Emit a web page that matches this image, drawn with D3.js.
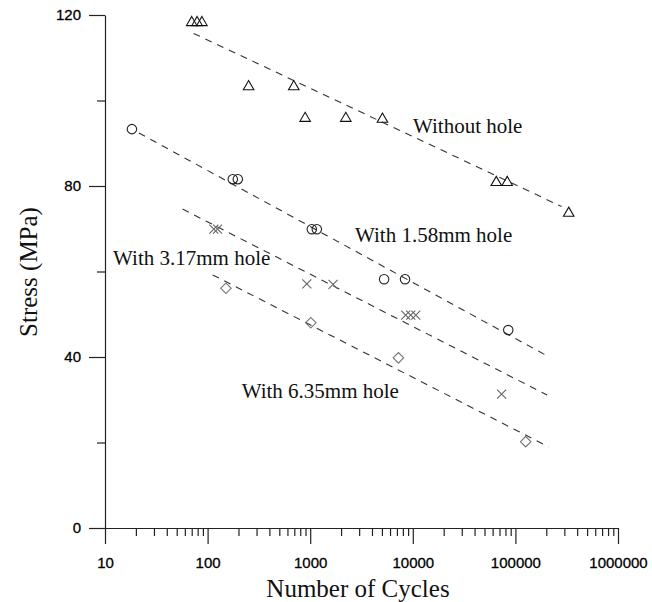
<!DOCTYPE html>
<meta charset="utf-8">
<style>
  body { margin: 0; background: #fff; }
  .tick text { font-family: "Liberation Sans", Arial, sans-serif; font-size: 15px; fill: #000; stroke: #000; stroke-width: 0.3; }
  .tick line, .domain { stroke: #222; stroke-width: 1.2; }
  .note { font-family: "Liberation Serif", "Times New Roman", serif; fill: #111; }
</style>
<svg width="652" height="602"></svg>
<script src="https://d3js.org/d3.v7.min.js"></script>
<script>

var svg = d3.select("svg");

// data: cycles and stress (MPa)
var withoutHoleN = [70, 79, 88, 251, 692, 893, 2222, 5060, 65100, 83200, 331000];
var withoutHoleS = [118, 118, 118, 103, 103, 95.6, 95.6, 95.4, 80.6, 80.6, 73.4];

var hole158N = [18.3, 176, 197, 1037, 1160, 5250, 8400, 85200];
var hole158S = [93.3, 81.6, 81.6, 69.9, 69.9, 58.2, 58.2, 46.3];

var hole317N = [115, 125, 927, 1670, 8520, 9550, 10700, 73400];
var hole317S = [69.9, 69.9, 57.1, 57, 49.8, 49.8, 49.8, 31.3];

var hole635N = [151, 1014, 7240, 126000];
var hole635S = [56.1, 48.0, 39.8, 20.2];

// dashed trend lines (start / end)
var fitStartN = [73, 21.4, 57, 112];
var fitStartS = [115.7, 92.4, 74.6, 59.2];
var fitEndN = [282000, 210000, 204000, 210000];
var fitEndS = [75.2, 40.1, 31.1, 19.0];

var seriesNames = ["Without hole", "With 1.58mm hole", "With 3.17mm hole", "With 6.35mm hole"];
var labelN = [10050, 2735, 12, 215];
var labelS = [92.5, 66.9, 61.5, 30.4];

var xTicks = [10, 100, 1000, 10000, 100000, 1000000];
var yTicks = [0, 40, 80, 120];
var yMinor = [20, 60, 100];

var x = d3.scaleLog().domain([10, 1000000]).range([105, 618]);
var y = d3.scaleLinear().domain([0, 120]).range([528, 15]);

var xMinor = [];
xTicks.slice(0, -1).forEach(function(d) {
  for (var k = 2; k <= 9; k++) xMinor.push(d * k);
});

// x axis
svg.append("g")
    .attr("transform", "translate(0," + y(0) + ")")
    .call(d3.axisBottom(x).tickValues(xMinor).tickSize(8).tickFormat(""))
  .select(".domain").remove();

svg.append("g")
    .attr("transform", "translate(0," + y(0) + ")")
    .call(d3.axisBottom(x).tickValues(xTicks).tickSize(16).tickSizeOuter(0)
      .tickPadding(13).tickFormat(d3.format("d")));

// y axis
svg.append("g")
    .attr("transform", "translate(" + x(10) + ",0)")
    .call(d3.axisLeft(y).tickValues(yMinor).tickSize(8).tickFormat(""))
  .select(".domain").remove();

svg.append("g")
    .attr("transform", "translate(" + x(10) + ",0)")
    .call(d3.axisLeft(y).tickValues(yTicks).tickSize(16).tickSizeOuter(0).tickPadding(8));

// trend lines
svg.append("g").selectAll("line")
  .data(fitStartN)
  .enter().append("line")
    .attr("x1", function(d, i) { return x(fitStartN[i]); })
    .attr("y1", function(d, i) { return y(fitStartS[i]); })
    .attr("x2", function(d, i) { return x(fitEndN[i]); })
    .attr("y2", function(d, i) { return y(fitEndS[i]); })
    .attr("stroke", "#333")
    .attr("stroke-width", 1.1)
    .attr("stroke-dasharray", "7,6");

function zip(ns, ss) {
  return ns.map(function(n, i) { return [n, ss[i]]; });
}

var crossType = d3.symbolTimes || d3.symbolX || d3.symbolCross;

var groups = [
  { pts: zip(withoutHoleN, withoutHoleS), sym: d3.symbol().type(d3.symbolTriangle).size(48), col: "#111", rot: 0, dy: -1 },
  { pts: zip(hole158N, hole158S), sym: d3.symbol().type(d3.symbolCircle).size(70), col: "#222", rot: 0, dy: 0 },
  { pts: zip(hole317N, hole317S), sym: d3.symbol().type(crossType).size(55), col: "#666", rot: 0, dy: 0 },
  { pts: zip(hole635N, hole635S), sym: d3.symbol().type(d3.symbolSquare).size(55), col: "#777", rot: 45, dy: 0 }
];

groups.forEach(function(g) {
  svg.append("g").selectAll("path")
    .data(g.pts)
    .enter().append("path")
      .attr("d", g.sym)
      .attr("transform", function(d) {
        return "translate(" + x(d[0]) + "," + (y(d[1]) + g.dy) + ") rotate(" + g.rot + ")";
      })
      .attr("fill", "none")
      .attr("stroke", g.col)
      .attr("stroke-width", 1.1);
});

// series notes
svg.append("g").selectAll("text")
  .data(seriesNames)
  .enter().append("text")
    .attr("class", "note")
    .attr("x", function(d, i) { return x(labelN[i]); })
    .attr("y", function(d, i) { return y(labelS[i]); })
    .attr("font-size", 21)
    .text(function(d) { return d; });

// axis titles
svg.append("text")
    .attr("class", "note")
    .attr("font-size", 25)
    .attr("text-anchor", "middle")
    .attr("transform", "translate(37,272) rotate(-90)")
    .text("Stress (MPa)");

svg.append("text")
    .attr("class", "note")
    .attr("font-size", 25)
    .attr("text-anchor", "middle")
    .attr("x", 358)
    .attr("y", 597)
    .text("Number of Cycles");

</script>
